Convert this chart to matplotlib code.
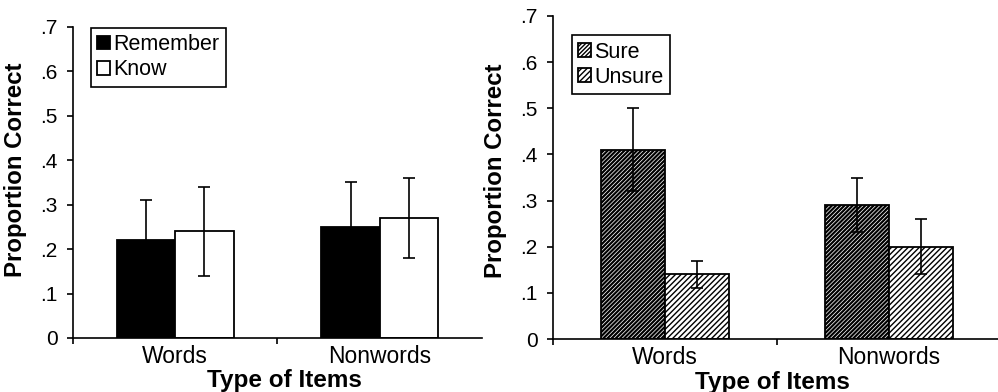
"""Proportion correct by item type: remember/know and sure/unsure panels"""

import matplotlib
matplotlib.use("Agg")
import matplotlib.pyplot as plt
import numpy as np

plt.rcParams['font.family'] = ['Liberation Sans', 'DejaVu Sans']

# data
categories = ["Words", "Nonwords"]

remember = [0.22, 0.25]
remember_err = [0.09, 0.10]
know = [0.24, 0.27]
know_err = [0.10, 0.09]

sure = [0.41, 0.29]
sure_err = [0.09, 0.058]
unsure = [0.14, 0.20]
unsure_err = [0.03, 0.06]

y_ticks = [0, 0.1, 0.2, 0.3, 0.4, 0.5, 0.6, 0.7]
y_tick_labels = ["0", ".1", ".2", ".3", ".4", ".5", ".6", ".7"]


def style_axes(ax):
    """Common axis look for both panels"""
    for side in ["top", "right"]:
        ax.spines[side].set_visible(False)
    for side in ["left", "bottom"]:
        ax.spines[side].set_linewidth(1.2)
    ax.set_xlim(0, 2)
    ax.set_ylim(0, 0.7)
    ax.set_yticks(y_ticks)
    ax.set_yticklabels(y_tick_labels, fontsize=15)
    ax.tick_params(axis="y", direction="out", length=4, width=1.2, pad=7)
    # category boundaries as major ticks, names as minor ticks
    ax.set_xticks([0, 1])
    ax.set_xticklabels(["", ""])
    ax.tick_params(axis="x", which="major", direction="out", length=4, width=1.2)
    ax.set_xticks([0.5, 1.5], minor=True)
    ax.set_xticklabels(categories, minor=True, fontsize=16.5)
    ax.tick_params(axis="x", which="minor", length=0, pad=5)
    ax.set_ylabel("Proportion Correct", fontsize=17.3, fontweight="bold")
    ax.set_xlabel("Type of Items", fontsize=17.5, fontweight="bold")


fig = plt.figure(figsize=(9.98, 3.92), dpi=100)

x = np.array([0.5, 1.5])
width = 0.286
err_kw = dict(ecolor="black", elinewidth=1.2, capsize=4.3, capthick=1.2)
leg_kw = dict(loc="upper left", borderaxespad=0, fontsize=15.5,
              handlelength=0.6, handleheight=0.6, handletextpad=0.15,
              labelspacing=0.2, borderpad=0.3, fancybox=False,
              edgecolor="black", framealpha=1)

#left panel: remember / know
ax1 = fig.add_axes([0.0731, 0.1378, 0.4099, 0.7934])
ax1.bar(x - width / 2, remember, width, yerr=remember_err, color="black",
        edgecolor="black", linewidth=1.3, label="Remember", error_kw=err_kw)
ax1.bar(x + width / 2, know, width, yerr=know_err, color="white",
        edgecolor="black", linewidth=1.3, label="Know", error_kw=err_kw)
style_axes(ax1)
ax1.yaxis.set_label_coords(-0.112, 0.54)
ax1.xaxis.set_label_coords(0.518, -0.10)
leg1 = ax1.legend(bbox_to_anchor=(0.043, 0.998), **leg_kw)
leg1.get_frame().set_linewidth(1.2)

#right panel: sure / unsure, hatched
ax2 = fig.add_axes([0.5541, 0.1352, 0.4489, 0.8240])
with plt.rc_context({"hatch.linewidth": 1.6}):
    ax2.bar(x - width / 2, sure, width, yerr=sure_err, color="white",
            edgecolor="black", hatch="/" * 8, linewidth=1.3, label="Sure",
            error_kw=err_kw)
with plt.rc_context({"hatch.linewidth": 1.0}):
    ax2.bar(x + width / 2, unsure, width, yerr=unsure_err, color="white",
            edgecolor="black", hatch="/" * 6, linewidth=1.3, label="Unsure",
            error_kw=err_kw)
style_axes(ax2)
ax2.yaxis.set_label_coords(-0.103, 0.52)
ax2.xaxis.set_label_coords(0.49, -0.10)
leg2 = ax2.legend(bbox_to_anchor=(0.042, 0.941), **leg_kw)
leg2.get_frame().set_linewidth(1.2)

fig.savefig("out.png", dpi=100)
